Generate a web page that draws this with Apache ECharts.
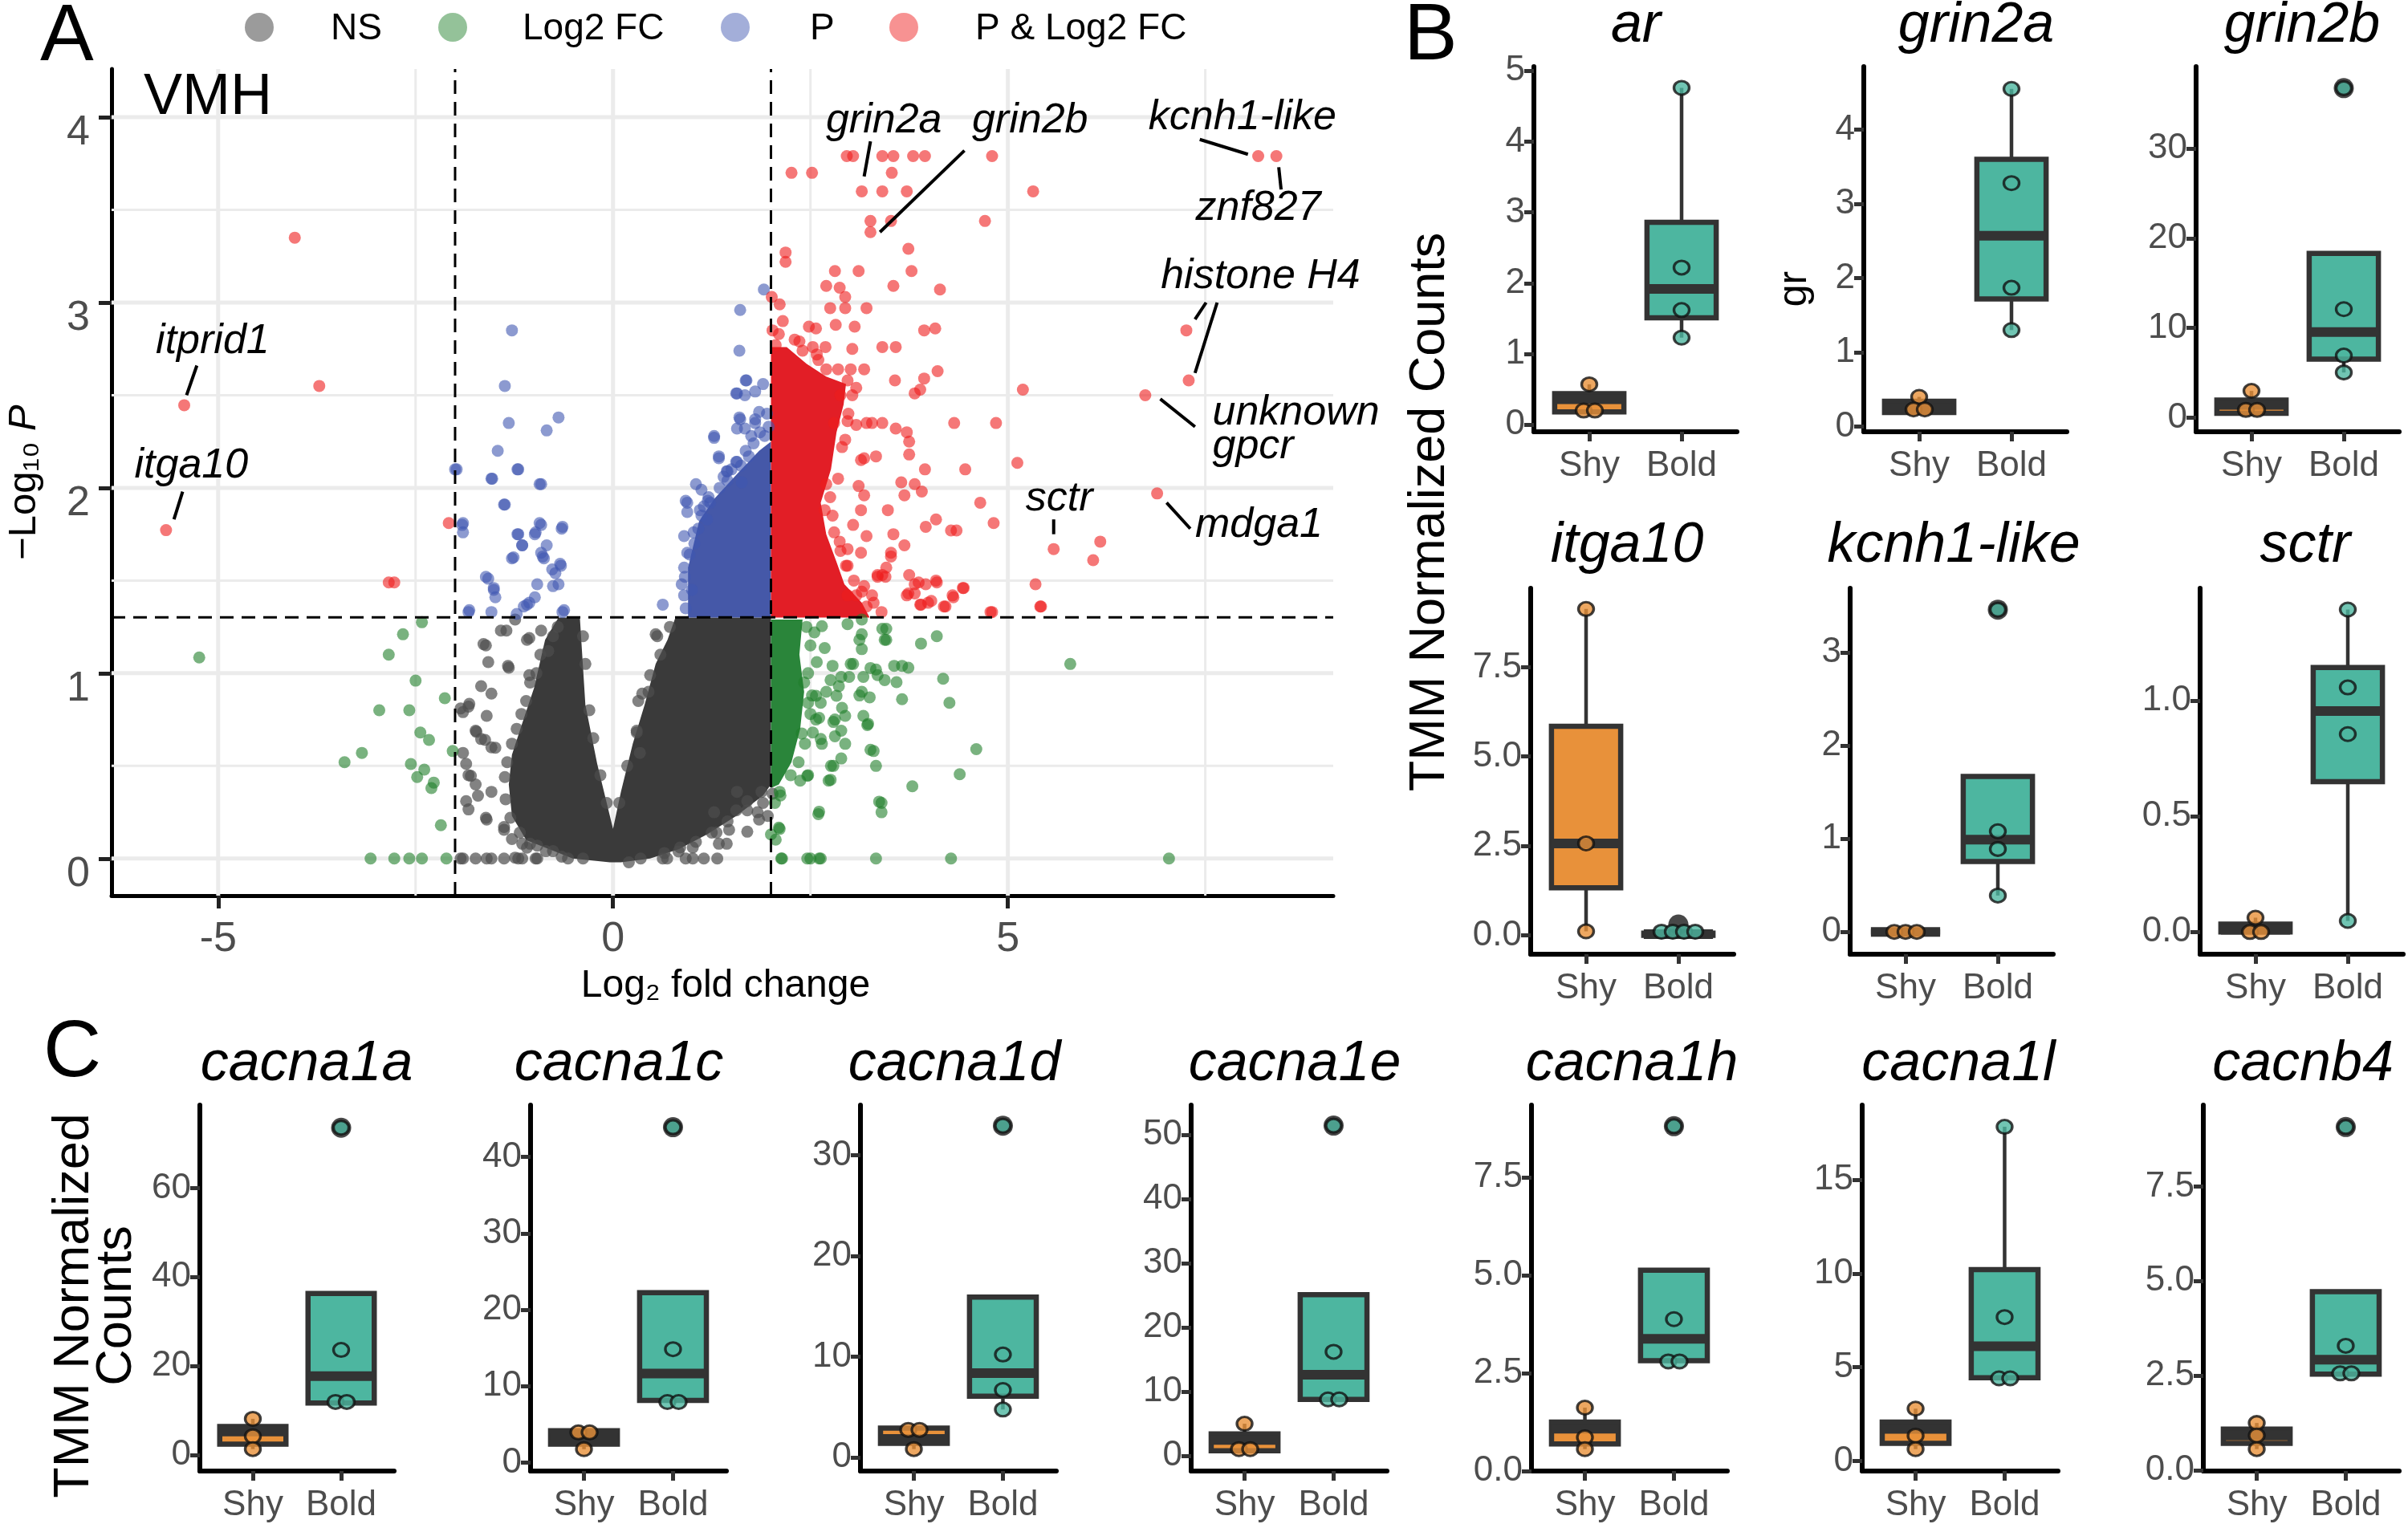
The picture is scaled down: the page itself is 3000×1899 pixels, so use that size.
<!DOCTYPE html>
<html><head><meta charset="utf-8">
<script src="https://cdn.jsdelivr.net/npm/echarts@6/dist/echarts.min.js"></script>
<style>html,body{margin:0;padding:0;background:#fff}#c{width:3000px;height:1899px}</style>
</head><body><div id="c"></div>
<script>
// ================= DATA: Panel A (volcano, VMH) =================
const VOLCANO_X_TICKS = [-5, 0, 5];
const VOLCANO_Y_TICKS = [0, 1, 2, 3, 4];
const GRID_MAJOR_X = [-5, 0, 5];
const GRID_MINOR_X = [-2.5, 2.5, 7.5];
const GRID_MAJOR_Y = [0, 1, 2, 3, 4];
const GRID_MINOR_Y = [0.5, 1.5, 2.5, 3.5];
const FC_CUTOFFS = [-2, 2];
const P_CUTOFF = 1.301;
const LEGEND_NAMES = ['NS', 'Log2 FC', 'P', 'P & Log2 FC'];

// envelopes of the densely overplotted cores (log2FC, -log10 P)
const NS_CORE = [[-0.69,1.30],[-0.42,1.30],[-0.35,0.83],[-0.20,0.51],[0.0,0.16],[0.10,0.36],[0.25,0.62],[0.40,0.83],[0.54,1.05],[0.69,1.18],[0.79,1.30],[2.0,1.30],[2.0,0.40],[1.90,0.34],[1.56,0.23],[1.19,0.13],[0.83,0.05],[0.47,0.0],[0.10,-0.02],[-0.04,-0.02],[-0.51,0.0],[-1.10,0.10],[-1.28,0.23],[-1.32,0.40],[-1.28,0.56],[-1.15,0.73],[-1.00,0.92],[-0.93,1.05],[-0.86,1.18]];
const P_CORE = [[0.95,1.30],[0.95,1.57],[1.09,1.82],[1.28,1.94],[1.56,2.07],[1.85,2.20],[2.0,2.25],[2.0,1.30]];
const PFC_CORE = [[2.0,2.76],[2.2,2.76],[2.45,2.67],[2.7,2.60],[2.95,2.56],[2.92,2.45],[2.83,2.30],[2.76,2.10],[2.63,1.92],[2.70,1.75],[2.83,1.60],[2.93,1.48],[3.15,1.38],[3.25,1.30],[2.0,1.30]];
const FC_CORE = [[2.0,1.29],[2.40,1.29],[2.36,1.10],[2.42,0.90],[2.37,0.70],[2.26,0.52],[2.10,0.40],[2.0,0.38]];

const NS_POINTS = [[-1.35,1.23],[-1.09,1.18],[-1.61,1.15],[-1.58,1.06],[-1.32,1.03],[-1.06,0.99],[-1.67,0.93],[-1.54,0.89],[-1.83,0.82],[-1.90,0.79],[-1.74,0.69],[-1.67,0.645],[-1.54,0.60],[-1.90,0.57],[-1.83,0.45],[-1.74,0.40],[-1.54,0.36],[-1.86,0.31],[-1.83,0.265],[-1.61,0.22],[-1.38,0.17],[-1.28,0.105],[-1.15,0.08],[-0.96,0.07],[-1.54,0],[-1.15,0],[-0.96,0],[-1.90,0],[-1.74,0],[-0.57,0],[-0.38,0],[-0.76,0.04],
[-1.93,0.81],[-1.82,0.835],[-1.60,0.77],[-1.73,0.684],[-1.62,0.64],[-1.49,0.598],[-1.86,0.511],[-1.80,0.446],[-1.71,0.339],[-1.60,0.21],[-1.38,0.155],[-1.09,0.059],[-1.24,0.005],[-1.60,0],[-1.38,0],[-1.20,0],[-0.98,0],[-1.93,0],[-1.33,1.039],[-1.64,1.157],
[-1.24,1.29],[-1.06,1.19],[-0.91,1.23],[-1.42,1.23],[0.32,0.85],[0.47,0.99],
[0.63,0],[0.92,0],[1.15,0],[0.56,1.20],[0.37,0.89],[0.30,0.69],[0.34,0.57],[1.31,0.14],[1.44,0.08],[1.70,0.31],[1.83,0.25],[1.57,0.36],[1.28,0.25],[1.85,0.21],[1.96,0.23],[1.88,0.36],[1.70,0.145],[1.47,0.155],[1.34,0.08],[1.01,0.06],[0.83,0.038],[0.685,0],[1.01,0],[1.32,0],[0.54,1.21],[1.56,0.26],
[-0.70,1.25],[-0.76,1.20],[-0.82,1.12],[-0.92,1.10],[-0.97,1.00],[-1.05,0.95],[-1.10,0.85],[-1.16,0.78],[-1.22,0.70],[-1.28,0.62],[-1.34,0.52],[-1.37,0.44],[-1.36,0.32],[-1.30,0.22],[-1.18,0.14],[-1.05,0.08],[-0.85,0.04],[-0.65,0.01],
[-0.38,1.20],[-0.35,1.05],[-0.30,0.80],[-0.25,0.65],[-0.16,0.45],[-0.08,0.30],[0.08,0.30],[0.18,0.50],[0.30,0.68],[0.45,0.90],[0.60,1.10],[0.72,1.25],
[2.02,0.35],[1.90,0.30],[1.70,0.26],[1.45,0.20],[1.25,0.14],[1.05,0.09],[0.85,0.06],[0.65,0.03],[0.35,0.0],[0.20,-0.02]];

const FC_POINTS = [[-2.42,1.275],[-2.66,1.21],[-5.24,1.085],[-2.84,1.10],[-2.50,0.96],[-2.13,0.865],[-2.96,0.80],[-2.58,0.80],[-2.44,0.68],[-2.33,0.64],[-3.18,0.57],[-3.40,0.52],[-2.03,0.58],[-2.56,0.51],[-2.39,0.48],[-2.48,0.44],[-2.27,0.41],[-2.30,0.38],[-2.18,0.18],[-3.07,0],[-2.77,0],[-2.58,0],[-2.42,0],[-2.11,0],
[3.46,1.24],[3.46,1.18],[3.15,1.21],[3.15,1.13],[3.90,1.16],[4.10,1.20],[3.04,1.05],[2.78,1.04],[3.56,1.04],[3.66,1.04],[3.74,1.03],[3.33,1.02],[3.35,0.99],[3.17,0.98],[2.99,0.98],[2.89,0.98],[2.86,0.93],[2.70,0.90],[2.47,0.84],[2.63,0.84],[3.12,0.88],[3.25,0.87],[3.66,0.86],[4.18,0.97],[4.26,0.84],[2.57,0.75],[2.81,0.75],[2.94,0.77],[3.17,0.77],[3.22,0.72],[2.39,0.675],[2.63,0.645],[2.81,0.66],[2.89,0.69],[4.60,0.59],[3.30,0.58],[2.89,0.54],[2.76,0.50],[3.33,0.50],[2.47,0.45],[2.37,0.42],[2.73,0.42],[4.39,0.455],[3.79,0.39],[2.11,0.36],[3.40,0.30],[3.40,0.25],[2.60,0.24],[2.11,0.16],[2.00,0.13],[5.79,1.05],[2.13,0],[2.50,0],[2.63,0],[3.33,0],[4.28,0],[7.04,0],
[2.645,1.254],[2.97,1.265],[3.15,1.29],[3.41,1.24],[3.44,1.18],[3.12,1.18],[2.68,1.136],[3.01,1.05],[3.26,1.028],[3.44,0.963],[3.59,0.952],[2.755,0.963],[2.57,0.878],[2.83,0.878],[3.15,0.90],[2.90,0.813],[2.61,0.759],[2.79,0.737],[3.23,0.727],[2.94,0.619],[2.645,0.619],[2.46,0.446],[2.79,0.50],[3.26,0.587],[2.755,0.425],[2.61,0.253],[3.37,0.307],[2.10,0.167],[2.06,0.102],[2.14,0],[2.46,0],[2.61,0],
[2.45,1.25],[2.50,1.15],[2.47,1.00],[2.52,0.88],[2.50,0.78],[2.43,0.62],[2.35,0.52],[2.25,0.45],[2.12,0.34],[2.05,0.30],[2.55,1.22],[2.58,1.06],[2.42,0.95],[2.53,0.68]];

const P_POINTS = [[-1.28,2.85],[-1.37,2.55],[-1.32,2.35],[-0.69,2.38],[-0.84,2.31],[-1.46,2.20],[-2.00,2.10],[-1.54,2.05],[-1.21,2.10],[-0.93,2.02],[-1.38,1.91],[-1.90,1.81],[-1.90,1.76],[-0.93,1.81],[-0.65,1.78],[-0.99,1.75],[-1.21,1.75],[-1.15,1.69],[-1.28,1.62],[-0.84,1.69],[-0.89,1.63],[-0.67,1.59],[-0.73,1.54],[-0.76,1.47],[-1.61,1.52],[-1.51,1.46],[-1.49,1.41],[-0.96,1.48],[-0.99,1.41],[-1.09,1.37],[-1.83,1.33],[-1.54,1.33],[-1.22,1.32],[-0.64,1.33],
[-1.53,2.05],[-1.20,2.10],[-0.91,2.02],[-1.37,1.91],[-1.20,1.75],[-0.98,1.76],[-0.91,1.80],[-0.64,1.79],[-1.26,1.625],[-1.15,1.69],[-0.91,1.65],[-0.875,1.62],[-0.77,1.56],[-0.66,1.58],[-0.69,1.48],[-1.58,1.51],[-1.51,1.45],[-1.06,1.38],[-1.13,1.36],[-1.82,1.34],[-0.62,1.34],[-1.91,1.80],[-1.98,2.10],
[1.91,3.07],[1.61,2.96],[1.60,2.74],[1.69,2.58],[1.57,2.51],[1.80,2.52],[1.60,2.38],[1.80,2.37],[1.57,2.32],[1.67,2.32],[1.28,2.27],[1.34,2.17],[1.57,2.14],[1.44,2.09],[1.05,2.02],[0.92,1.93],[1.21,1.95],[0.63,1.37],
[1.68,2.58],[1.90,2.56],[1.56,2.51],[1.67,2.50],[1.85,2.41],[1.61,2.37],[1.80,2.35],[1.28,2.28],[1.68,2.20],[1.34,2.16],[1.56,2.14],[1.45,2.09],[1.12,1.99],[0.94,1.92],[0.94,1.87],[1.12,1.85],[1.23,1.92],[1.63,2.03],
[0.90,1.74],[0.94,1.65],[0.90,1.57],[0.87,1.48],[0.90,1.42],[1.03,1.70],[1.08,1.78],[1.19,1.83],
[0.92,1.35],[0.91,1.52],[0.97,1.64],[1.02,1.76],[1.10,1.88],[1.20,1.93],[1.35,2.00],[1.45,2.04],[1.62,2.12],[1.72,2.17],[1.78,2.24],[1.92,2.28],[1.97,2.33],[1.86,2.30],[1.50,2.10],[1.00,1.45],[1.75,2.28],[1.95,2.40],[1.40,2.06],[1.15,1.90]];

const PFC_POINTS = [[2.96,3.79],[3.04,3.79],[3.41,3.79],[3.55,3.79],[3.80,3.79],[3.95,3.79],[4.80,3.79],[8.17,3.79],[8.40,3.79],
[2.26,3.70],[2.52,3.70],[3.53,3.70],[3.15,3.60],[3.41,3.60],[3.72,3.60],[5.32,3.60],
[3.26,3.44],[3.52,3.44],[4.71,3.44],[3.26,3.38],[3.74,3.29],[2.185,3.27],[2.185,3.22],
[2.81,3.17],[3.11,3.17],[3.78,3.17],[2.70,3.09],[2.87,3.08],[3.55,3.09],[4.14,3.07],
[2.94,3.03],[2.01,3.03],[2.11,2.99],[2.75,2.97],[2.94,2.97],[3.21,2.97],
[2.48,2.87],[2.57,2.86],[2.82,2.88],[3.06,2.87],[3.94,2.85],[4.08,2.86],
[2.06,2.77],[2.53,2.76],[2.69,2.76],[3.03,2.75],[3.41,2.76],[3.58,2.76],
[2.70,2.64],[3.01,2.64],[3.18,2.64],[4.11,2.63],[3.57,2.58],[3.94,2.59],[3.89,2.53],[3.82,2.51],[5.19,2.53],
[3.41,2.35],[3.58,2.32],[3.72,2.30],[3.75,2.25],[3.75,2.18],[4.32,2.35],[4.85,2.35],
[3.33,2.17],[3.14,2.15],[3.95,2.10],[4.46,2.10],[5.12,2.135],
[3.65,2.03],[3.82,2.02],[3.91,1.98],[3.69,1.96],
[4.65,1.92],[4.09,1.83],[3.96,1.79],[4.82,1.81],[4.28,1.77],[4.35,1.77],[5.58,1.67],
[3.52,1.63],[3.69,1.69],[3.75,1.53],[3.82,1.48],[3.96,1.48],[4.09,1.50],[4.43,1.46],[4.30,1.42],[5.35,1.48],[3.72,1.42],[3.89,1.37],[3.99,1.38],[4.19,1.36],[5.41,1.36],[4.80,1.33],[3.41,1.53],
[6.17,1.71],[6.08,1.61],
[3.08,2.54],[2.97,2.58],[2.80,2.35],[2.97,2.36],[3.08,2.34],[3.21,2.35],[3.28,2.35],[2.94,2.26],[3.18,2.16],[3.11,2.01],[3.18,1.96],[3.14,1.88],[3.04,1.80],[2.87,1.71],[2.97,1.67],[3.21,1.74],[3.55,1.75],[3.48,1.88],[3.14,1.65],[3.52,1.65],[3.35,1.52],[3.45,1.52],[2.97,1.58],[3.18,1.47],[2.97,1.42],[3.28,1.42],[3.21,1.36],
[3.82,1.43],[3.87,1.49],[4.10,1.49],[4.44,1.46],[4.31,1.41],[4.21,1.36],[4.03,1.39],[3.90,1.37],[3.74,1.43],[5.42,1.36],[4.78,1.33],[3.35,1.53],[3.46,1.57],
[2.10,2.83],[2.30,2.80],[2.40,2.74],[2.60,2.69],[2.85,2.64],[3.03,2.50],[2.98,2.40],[2.90,2.22],[2.85,2.05],[2.75,1.95],[2.78,1.85],[2.80,1.76],[2.88,1.66],[2.95,1.58],[3.05,1.50],[3.15,1.44],[3.30,1.38],[3.40,1.33],[2.58,2.72],[2.36,2.79],[2.02,2.85],[2.15,2.90],[2.88,2.50],[2.70,2.02],[2.68,1.88],[3.08,1.42],
[-4.03,3.35],[-3.72,2.55],[-2.08,1.81],[-2.84,1.49],[-2.77,1.49],[-5.43,2.446],[-5.66,1.772],
[7.26,2.85],[7.29,2.58],[6.74,2.50],[6.89,1.97]];

const LABEL_TEXT = ['itprid1','itga10','grin2a','grin2b','kcnh1-like','znf827','histone H4','unknown\ngpcr','sctr','mdga1'];
const LABEL_POS = [[-5.07,2.79],[-5.34,2.12],[3.43,3.98],[5.28,3.98],[7.97,4.0],[8.17,3.51],[8.20,3.14],[7.59,2.315],[5.65,1.94],[8.18,1.80]];
const LABEL_ALIGN = ['center','center','center','center','center','center','center','left','center','center'];
const LABEL_SEGMENTS = [[-5.40,2.50,-5.27,2.66],[-5.56,1.83,-5.45,1.98],[3.26,3.87,3.18,3.68],[4.45,3.82,3.38,3.38],[7.43,3.88,8.04,3.80],[8.43,3.73,8.46,3.61],[7.51,3.00,7.37,2.91],[7.65,3.00,7.37,2.62],[6.93,2.48,7.37,2.33],[5.58,1.83,5.58,1.75],[7.01,1.92,7.31,1.78]];

// ================= DATA: Panels B & C (TMM normalized counts) =================
const GENES = ['ar','grin2a','grin2b','itga10','kcnh1-like','sctr','cacna1a','cacna1c','cacna1d','cacna1e','cacna1h','cacna1l','cacnb4'];
const GROUPS = ['Shy','Bold'];
// box stats: [lower whisker, Q1, median, Q3, upper whisker]
const SHY_BOX = [[0.18,0.18,0.36,0.44,0.57],[0.19,0.19,0.25,0.34,0.40],[0.5,0.5,1.45,1.98,3.0],[0.11,1.33,2.57,5.85,9.13],[0,0,0,0,0],[0,0,0.01,0.034,0.062],
  [1.29,2.42,5.23,6.36,8.1],[1.76,2.42,3.3,4.19,4.19],[0.84,1.41,1.85,2.92,2.92],[0.79,0.79,2.47,3.42,5.0],[0.56,0.69,1.08,1.25,1.62],[0.63,0.94,1.71,2.07,2.79],[0.56,0.71,0.92,1.09,1.25]];
const BOLD_BOX = [[1.23,1.51,1.92,2.86,4.76],[1.30,1.72,2.57,3.60,4.55],[5.05,6.54,9.54,18.3,18.3],[0,0,0.03,0.06,0.06],[0.39,0.755,0.99,1.67,1.67],[0.048,0.65,0.956,1.144,1.395],
  [11.67,11.67,17.7,36.3,36.3],[7.93,8.15,11.67,22.25,22.25],[4.77,6.1,8.39,15.94,15.94],[8.79,8.79,12.63,25.1,25.1],[2.80,2.82,3.38,5.13,5.13],[4.41,4.44,6.12,10.22,17.84],[2.54,2.54,2.92,4.72,4.72]];
const SHY_PTS = [[0.57,0.20,0.20],[0.40,0.23,0.23],[3.0,0.88,0.88],[9.13,2.57,0.11],[0,0,0],[0.062,0,0],
  [8.1,4.17,1.29],[3.96,3.96,1.76],[2.75,2.75,0.84],[5.0,1.05,1.05],[1.62,0.86,0.56],[2.79,1.35,0.63],[1.25,0.92,0.56]];
const BOLD_PTS = [[4.76,2.22,1.62,1.23],[4.55,3.28,1.87,1.30],[36.7,12.1,6.93,5.05],[0.1,0.1,0.1,0.1],[3.46,1.08,0.89,0.39],[1.395,1.058,0.856,0.048],
  [73.6,23.6,11.9,11.9],[43.9,14.85,7.93,7.93],[32.95,10.23,6.71,4.77],[51.4,16.2,8.79,8.79],[8.81,3.88,2.80,2.80],[17.84,7.68,4.41,4.41],[9.07,3.29,2.56,2.56]];
const BOLD_OUTLIERS = [[],[],[36.7],[0.3],[3.46],[],[73.6],[43.9],[32.95],[51.4],[8.81],[],[9.07]];
const Y_TICKS = [[0,1,2,3,4,5],[0,1,2,3,4],[0,10,20,30],[0,2.5,5,7.5],[0,1,2,3],[0,0.5,1],
  [0,20,40,60],[0,10,20,30,40],[0,10,20,30],[0,10,20,30,40,50],[0,2.5,5,7.5],[0,5,10,15],[0,2.5,5,7.5]];
const Y_TICK_LABELS = [['0','1','2','3','4','5'],['0','1','2','3','4'],['0','10','20','30'],['0.0','2.5','5.0','7.5'],['0','1','2','3'],['0.0','0.5','1.0'],
  ['0','20','40','60'],['0','10','20','30','40'],['0','10','20','30'],['0','10','20','30','40','50'],['0.0','2.5','5.0','7.5'],['0','5','10','15'],['0.0','2.5','5.0','7.5']];

// ================= LAYOUT & STYLE =================
const FONT = '"Liberation Sans", Arial, Helvetica, sans-serif';
const VOLC = {left:139, top:86, right:1661, bottom:1116, xMin:-6.35, xMax:9.12, yMin:-0.2, yMax:4.26};
const PANELS = [
  {left:1911, right:2164, top:83, bottom:538, yMin:-0.1, yMax:5.06, tx:2038, ty:33},
  {left:2322, right:2575, top:83, bottom:538, yMin:-0.07, yMax:4.85, tx:2462, ty:33},
  {left:2736, right:2989, top:83, bottom:538, yMin:-1.55, yMax:39.1, tx:2868, ty:33},
  {left:1907, right:2160, top:733, bottom:1189, yMin:-0.53, yMax:9.71, tx:2027, ty:681},
  {left:2305, right:2558, top:733, bottom:1189, yMin:-0.24, yMax:3.69, tx:2434, ty:681},
  {left:2741, right:2994, top:733, bottom:1189, yMin:-0.096, yMax:1.487, tx:2872, ty:681},
  {left:249, right:491, top:1377, bottom:1833, yMin:-3.65, yMax:78.7, tx:382, ty:1327},
  {left:661, right:905, top:1377, bottom:1833, yMin:-1.1, yMax:46.8, tx:771, ty:1327},
  {left:1072, right:1316, top:1377, bottom:1833, yMin:-1.34, yMax:35.0, tx:1189, ty:1327},
  {left:1484, right:1728, top:1377, bottom:1833, yMin:-2.36, yMax:54.6, tx:1613, ty:1327},
  {left:1908, right:2152, top:1377, bottom:1833, yMin:0, yMax:9.35, tx:2033, ty:1327},
  {left:2320, right:2564, top:1377, bottom:1833, yMin:-0.54, yMax:19.0, tx:2440, ty:1327},
  {left:2745, right:2989, top:1377, bottom:1833, yMin:-0.02, yMax:9.65, tx:2869, ty:1327}
];
const COL = {
  ns:'#4d4d4d', fc:'#1f7f2a', p:'#3f56b0', pfc:'#ee1c1c',
  nsCore:'#3a3a3a', fcCore:'#2a853a', pCore:'#4558a8', pfcCore:'#e21e26',
  shy:'#E8913A', bold:'#4DB6A0', dark:'#333333', grid:'#ebebeb', tickText:'#4d4d4d'
};
const PT_OPACITY = {ns:0.7, fc:0.6, p:0.6, pfc:0.6};

// ================= BUILD =================
const chart = echarts.init(document.getElementById('c'), null, {renderer:'canvas', width:3000, height:1899});
const grids = [], xAxes = [], yAxes = [], series = [], graphics = [];

function lineEl(a, b, style){ return {type:'line', shape:{x1:a[0], y1:a[1], x2:b[0], y2:b[1]}, style}; }

// ---- Panel A ----
grids.push({left:VOLC.left, top:VOLC.top, width:VOLC.right-VOLC.left, height:VOLC.bottom-VOLC.top});
xAxes.push({type:'value', gridIndex:0, min:VOLC.xMin, max:VOLC.xMax,
  axisLine:{show:true, onZero:false, lineStyle:{color:'#000', width:5}},
  axisTick:{show:true, customValues:VOLCANO_X_TICKS, length:16, lineStyle:{color:'#222', width:5}},
  axisLabel:{show:true, customValues:VOLCANO_X_TICKS, fontSize:52, color:COL.tickText, fontFamily:FONT, margin:29},
  splitLine:{show:false}});
yAxes.push({type:'value', gridIndex:0, min:VOLC.yMin, max:VOLC.yMax,
  axisLine:{show:true, onZero:false, lineStyle:{color:'#000', width:5}},
  axisTick:{show:true, customValues:VOLCANO_Y_TICKS, length:16, lineStyle:{color:'#222', width:5}},
  axisLabel:{show:true, customValues:VOLCANO_Y_TICKS, fontSize:52, color:COL.tickText, fontFamily:FONT, margin:27, verticalAlign:'top', lineHeight:40},
  splitLine:{show:false}});

const gridLineData = [];
GRID_MAJOR_X.forEach(v => gridLineData.push([v, 0, 0]));
GRID_MINOR_X.forEach(v => gridLineData.push([v, 0, 1]));
GRID_MAJOR_Y.forEach(v => gridLineData.push([v, 1, 0]));
GRID_MINOR_Y.forEach(v => gridLineData.push([v, 1, 1]));
series.push({type:'custom', xAxisIndex:0, yAxisIndex:0, z:1, silent:true, data:gridLineData,
  renderItem:(p, api) => {
    const v = api.value(0), o = api.value(1), k = api.value(2);
    const a = o === 0 ? api.coord([v, VOLC.yMin]) : api.coord([VOLC.xMin, v]);
    const b = o === 0 ? api.coord([v, VOLC.yMax]) : api.coord([VOLC.xMax, v]);
    return lineEl(a, b, {stroke:COL.grid, lineWidth: k === 0 ? 5 : 3});
  }});

const cores = [[NS_CORE, COL.nsCore], [FC_CORE, COL.fcCore], [P_CORE, COL.pCore], [PFC_CORE, COL.pfcCore]];
series.push({type:'custom', xAxisIndex:0, yAxisIndex:0, z:2, silent:true,
  data: cores.map((c, i) => [c[0][0][0], c[0][0][1], i]),
  renderItem:(p, api) => {
    const c = cores[api.value(2)];
    return {type:'polygon', shape:{points:c[0].map(v => api.coord(v))}, style:{fill:c[1]}};
  }});

[['NS', NS_POINTS, COL.ns, PT_OPACITY.ns], ['Log2 FC', FC_POINTS, COL.fc, PT_OPACITY.fc],
 ['P', P_POINTS, COL.p, PT_OPACITY.p], ['P & Log2 FC', PFC_POINTS, COL.pfc, PT_OPACITY.pfc]].forEach(s => {
  series.push({type:'scatter', name:s[0], xAxisIndex:0, yAxisIndex:0, data:s[1], symbolSize:15, z:3, silent:true,
    itemStyle:{color:s[2], opacity:s[3]}});
});

const thrData = FC_CUTOFFS.map(v => [v, 0]).concat([[P_CUTOFF, 1]]);
series.push({type:'custom', xAxisIndex:0, yAxisIndex:0, z:5, silent:true, data:thrData,
  renderItem:(p, api) => {
    const v = api.value(0), o = api.value(1);
    const a = o === 0 ? api.coord([v, VOLC.yMin]) : api.coord([VOLC.xMin, v]);
    const b = o === 0 ? api.coord([v, VOLC.yMax]) : api.coord([VOLC.xMax, v]);
    return lineEl(a, b, {stroke:'#000', lineWidth:3, lineDash:[17, 10]});
  }});

series.push({type:'custom', xAxisIndex:0, yAxisIndex:0, z:6, silent:true, data:LABEL_SEGMENTS,
  renderItem:(p, api) => lineEl(api.coord([api.value(0), api.value(1)]), api.coord([api.value(2), api.value(3)]), {stroke:'#000', lineWidth:4})});
series.push({type:'custom', xAxisIndex:0, yAxisIndex:0, z:6, silent:true,
  data: LABEL_POS.map((p, i) => [p[0], p[1], i]),
  renderItem:(p, api) => {
    const i = api.value(2), c = api.coord([api.value(0), api.value(1)]);
    return {type:'text', x:c[0], y:c[1], style:{text:LABEL_TEXT[i], fontSize:52, fontStyle:'italic', fontFamily:FONT,
      fill:'#000', align:LABEL_ALIGN[i], verticalAlign:'middle', lineHeight:42}};
  }});

// ---- Panels B & C ----
const BOX_WIDTH = 0.75, DOT_STEP_PX = 14;
function stackDots(vals, xc, step){
  const count = {}, seen = {};
  vals.forEach(v => { count[v] = (count[v] || 0) + 1; });
  return vals.map(v => { const n = count[v]; const i = (seen[v] = (seen[v] || 0) + 1) - 1; return [xc + (i - (n - 1) / 2) * step, v]; });
}
function boxRender(p, api){
  const x = api.value(0);
  const lo = api.coord([x, api.value(1)]), q1 = api.coord([x, api.value(2)]), md = api.coord([x, api.value(3)]),
        q3 = api.coord([x, api.value(4)]), hi = api.coord([x, api.value(5)]);
  const fill = api.value(6) === 0 ? COL.shy : COL.bold;
  const half = api.size([BOX_WIDTH, 0])[0] / 2;
  const cx = lo[0];
  return {type:'group', children:[
    lineEl([cx, lo[1]], [cx, q1[1]], {stroke:COL.dark, lineWidth:4.5}),
    lineEl([cx, q3[1]], [cx, hi[1]], {stroke:COL.dark, lineWidth:4.5}),
    {type:'rect', shape:{x:cx - half, y:q3[1], width:2 * half, height:q1[1] - q3[1]}, style:{fill, stroke:COL.dark, lineWidth:6.5}},
    lineEl([cx - half, md[1]], [cx + half, md[1]], {stroke:COL.dark, lineWidth:12})
  ]};
}

PANELS.forEach((pn, k) => {
  const gi = k + 1;
  const w = pn.right - pn.left;
  grids.push({left:pn.left, top:pn.top, width:w, height:pn.bottom - pn.top});
  xAxes.push({type:'value', gridIndex:gi, min:0.4, max:2.6,
    axisLine:{show:true, onZero:false, lineStyle:{color:'#000', width:6}},
    axisTick:{show:true, customValues:[1, 2], length:12, lineStyle:{color:COL.dark, width:5}},
    axisLabel:{show:true, customValues:[1, 2], formatter:v => GROUPS[Math.round(v) - 1], fontSize:44, color:COL.tickText, fontFamily:FONT, margin:21},
    splitLine:{show:false}});
  yAxes.push({type:'value', gridIndex:gi, min:pn.yMin, max:pn.yMax,
    axisLine:{show:true, onZero:false, lineStyle:{color:'#000', width:6}},
    axisTick:{show:true, customValues:Y_TICKS[k], length:12, lineStyle:{color:COL.dark, width:5}},
    axisLabel:{show:true, customValues:Y_TICKS[k], fontSize:44, color:COL.tickText, fontFamily:FONT, margin:11,
      formatter:v => { const t = Y_TICKS[k]; for (let i = 0; i < t.length; i++) if (Math.abs(t[i] - v) < 1e-6) return Y_TICK_LABELS[k][i]; return ''; }},
    splitLine:{show:false}});
  series.push({type:'custom', xAxisIndex:gi, yAxisIndex:gi, z:2, silent:true,
    data:[[1].concat(SHY_BOX[k], [0]), [2].concat(BOLD_BOX[k], [1])], renderItem:boxRender});
  series.push({type:'scatter', xAxisIndex:gi, yAxisIndex:gi, z:3, silent:true, symbolSize:25,
    data:BOLD_OUTLIERS[k].map(v => [2, v]), itemStyle:{color:'#1a1a1a'}});
  const step = DOT_STEP_PX / (w / 2.2);
  series.push({type:'scatter', xAxisIndex:gi, yAxisIndex:gi, z:4, silent:true, symbolSize:[19, 17],
    data:stackDots(SHY_PTS[k], 1, step), itemStyle:{color:COL.shy, borderColor:'#111', borderWidth:3.2}});
  series.push({type:'scatter', xAxisIndex:gi, yAxisIndex:gi, z:4, silent:true, symbolSize:[19, 17],
    data:stackDots(BOLD_PTS[k], 2, step), itemStyle:{color:COL.bold, borderColor:'#111', borderWidth:3.2}});
  graphics.push({type:'text', x:pn.tx, y:pn.ty, style:{text:GENES[k], fontSize:70, fontStyle:'italic', fontFamily:FONT, fill:'#000', align:'center', verticalAlign:'middle'}});
});

// ---- texts ----
function txt(x, y, text, fs, o){
  o = o || {};
  graphics.push({type:'text', x, y, rotation:o.rot || 0, z:10,
    style:{text, fontSize:fs, fontFamily:FONT, fontStyle:o.italic ? 'italic' : 'normal', fill:o.color || '#000',
      align:o.align || 'center', verticalAlign:'middle', rich:o.rich}});
}
txt(50, 47, 'A', 100, {align:'left'});
txt(1749, 46, 'B', 100, {align:'left'});
txt(54, 1313, 'C', 100, {align:'left'});
txt(179, 122, 'VMH', 72, {align:'left'});
txt(904, 1229, 'Log₂ fold change', 48);
graphics.push({type:'text', x:30, y:601, rotation:Math.PI / 2, z:10,
  style:{text:'{a|−Log₁₀ }{b|P}', align:'center', verticalAlign:'middle',
    rich:{a:{fontSize:49, fontFamily:FONT, fill:'#000'}, b:{fontSize:49, fontFamily:FONT, fontStyle:'italic', fill:'#000'}}}});
txt(1782, 638, 'TMM Normalized Counts', 63, {rot:Math.PI / 2});
txt(93, 1627, 'TMM Normalized', 63, {rot:Math.PI / 2});
txt(146, 1627, 'Counts', 63, {rot:Math.PI / 2});
txt(2236, 360, 'gr', 50, {rot:Math.PI / 2});

// legend
const LEG = [{cx:323, tx:412, c:COL.ns, o:PT_OPACITY.ns}, {cx:564, tx:651, c:COL.fc, o:PT_OPACITY.fc},
             {cx:916, tx:1009, c:COL.p, o:PT_OPACITY.p}, {cx:1126, tx:1215, c:COL.pfc, o:PT_OPACITY.pfc}];
LEG.forEach((l, i) => {
  graphics.push({type:'circle', shape:{cx:l.cx, cy:34, r:18}, style:{fill:l.c, opacity:l.o * 0.8}, z:10});
  txt(l.tx, 36, LEGEND_NAMES[i], 46, {align:'left'});
});

chart.setOption({animation:false, backgroundColor:'#fff', grid:grids, xAxis:xAxes, yAxis:yAxes, series, graphic:{elements:graphics}});
</script></body></html>
